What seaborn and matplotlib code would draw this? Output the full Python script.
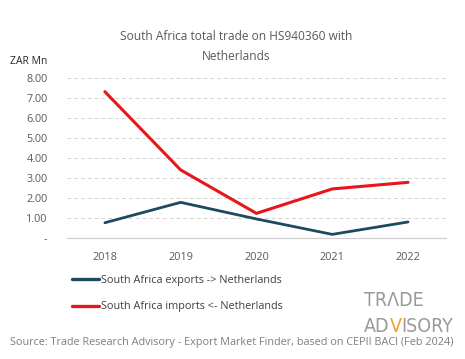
import pandas as pd
import matplotlib.pyplot as plt
import matplotlib.ticker as mticker
from matplotlib.lines import Line2D
import seaborn as sns

# Values (ZAR millions)
years = ['2018', '2019', '2020', '2021', '2022']
exports = [0.78, 1.80, 0.97, 0.20, 0.82]
imports = [7.33, 3.42, 1.25, 2.47, 2.80]
series_names = ['South Africa exports -> Netherlands', 'South Africa imports <- Netherlands']
series_colors = ['#1c4a5e', '#e8151b']
y_ticks = [0, 1, 2, 3, 4, 5, 6, 7, 8]

data = pd.DataFrame({
    'year': years * 2,
    'value': exports + imports,
    'series': [series_names[0]] * len(years) + [series_names[1]] * len(years),
})

sns.set_style('white')
plt.rcParams['font.family'] = ['Open Sans', 'DejaVu Sans']

fig = plt.figure(figsize=(4.65, 3.59), dpi=100)
ax = fig.add_axes([0.144, 0.336, 0.815, 0.446])

sns.lineplot(data=data, x='year', y='value', hue='series', palette=series_colors,
             linewidth=2.0, ax=ax, legend=False, sort=False)
# red line a bit thicker, like the reference
ax.lines[1].set_linewidth(2.2)

ax.set_xlim(-0.5, len(years) - 0.5)
ax.set_ylim(0, 8)
ax.set_yticks(y_ticks)
ax.yaxis.set_major_formatter(mticker.FuncFormatter(lambda v, p: '-' if v == 0 else f'{v:.2f}'))
ax.set_xlabel('')
ax.set_ylabel('')
ax.tick_params(axis='both', length=0, labelsize=7.8, colors='#595959')
ax.tick_params(axis='y', pad=14)
ax.tick_params(axis='x', pad=10)

ax.yaxis.grid(True, color='#d4d4d4', linestyle=(0, (4, 3)), linewidth=0.7)
ax.xaxis.grid(False)
for side in ['top', 'right', 'left']:
    ax.spines[side].set_visible(False)
ax.spines['bottom'].set_color('#d0d0d0')
ax.spines['bottom'].set_linewidth(0.9)
ax.set_axisbelow(True)

# Title in two lines
fig.text(0.507, 1 - 36 / 359, 'South Africa total trade on HS940360 with', ha='center', va='center',
         fontsize=8.6, color='#595959')
fig.text(0.507, 1 - 57 / 359, 'Netherlands', ha='center', va='center', fontsize=8.6, color='#595959')
fig.text(10 / 465, 1 - 61 / 359, 'ZAR Mn', ha='left', va='center', fontsize=7.5, color='#262626')

# Legend under the chart
handles = [Line2D([], [], color=c, linewidth=2.4) for c in series_colors]
fig.legend(handles, series_names, loc='upper left', bbox_to_anchor=(62 / 465, 1 - 265 / 359),
           frameon=False, fontsize=7.8, handlelength=2.5, handletextpad=0.2, labelspacing=1.45,
           labelcolor='#404040')

# Logo
logo_kw = dict(fontsize=14, family='DejaVu Sans', fontstretch='condensed')
fig.text(364 / 465, 1 - 300 / 359, 'TR\u039bDE', ha='left', va='center', color='#9a9a9a', **logo_kw)
t1 = fig.text(364 / 465, 1 - 327 / 359, 'AD', ha='left', va='center', color='#9a9a9a', **logo_kw)
t2 = ax.annotate('V', xy=(1, 0), xycoords=t1, ha='left', va='bottom',
                 color='#f0a030', annotation_clip=False, **logo_kw)
ax.annotate('ISORY', xy=(1, 0), xycoords=t2, ha='left', va='bottom',
            color='#9a9a9a', annotation_clip=False, **logo_kw)

# Source
fig.text(10 / 465, 1 - 343 / 359,
         'Source: Trade Research Advisory - Export Market Finder, based on CEPII BACI (Feb 2024)',
         ha='left', va='center', fontsize=7.8, color='#7f7f7f')

plt.savefig('out.png', dpi=100)
